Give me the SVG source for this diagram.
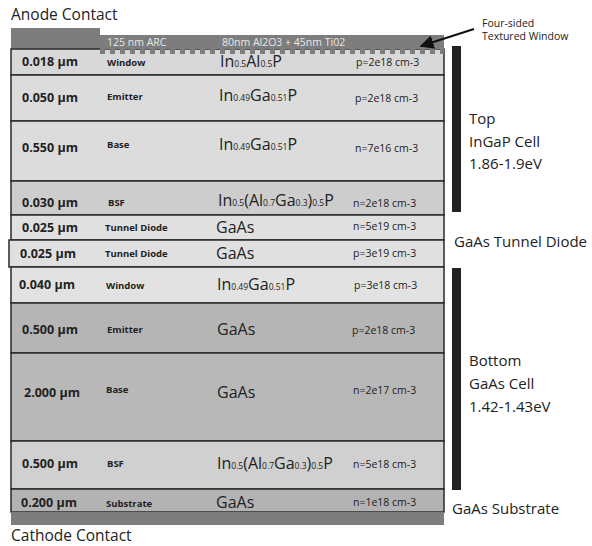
<svg xmlns="http://www.w3.org/2000/svg" width="592" height="546" viewBox="0 0 592 546">
<defs>
<style>
text{font-family:"Open Sans","Liberation Sans",sans-serif;fill:#222}
.th{font-size:12.5px;font-weight:bold}
.lb{font-size:9.5px;font-weight:bold}
.mt{font-size:16px}
.mt tspan.s{font-size:8.5px}
.dp{font-size:10.5px}
.big{font-size:15px}
.row{stroke:#2a2a2a;stroke-width:1.5}
.arc{font-size:10.5px;fill:#e8e8e8}
</style>
<marker id="ah" viewBox="0 0 10 10" refX="9" refY="5" markerWidth="7" markerHeight="7" orient="auto"><path d="M0,0 L10,5 L0,10 z" fill="#111"/></marker>
<pattern id="teeth" x="100" y="49" width="10" height="6" patternUnits="userSpaceOnUse"><rect x="0" y="0" width="5" height="5" fill="#7d7d7d"/></pattern>
</defs>
<rect width="592" height="546" fill="#fff"/>
<text x="11" y="20" style="font-size:15.5px">Anode Contact</text>
<text x="11" y="541" style="font-size:15.5px">Cathode Contact</text>

<g id="anode-contact"><rect x="11" y="28" width="89" height="21" fill="#7d7d7d"/></g>

<g id="layer-window1"><rect class="row" x="11" y="49" width="433" height="26" fill="#d8d8d8"/>
<rect x="100" y="49" width="344" height="5" fill="url(#teeth)"/>
<text class="th" x="22" y="66">0.018 µm</text><text class="lb" x="107" y="66">Window</text>
<text class="mt" x="220" y="67">In<tspan class="s">0.5</tspan>Al<tspan class="s">0.5</tspan>P</text>
<text class="dp" x="356" y="66">p=2e18 cm-3</text></g>

<g id="arc"><rect x="100" y="35" width="344" height="14" fill="#7d7d7d"/>
<text class="arc" x="107" y="46">125 nm ARC</text><text class="arc" x="222" y="46">80nm Al2O3 + 45nm Ti02</text></g>

<g id="layer-emitter1"><rect class="row" x="11" y="75" width="433" height="46" fill="#dcdcdc"/>
<text class="th" x="22" y="102">0.050 µm</text><text class="lb" x="107" y="100">Emitter</text>
<text class="mt" x="219" y="101">In<tspan class="s">0.49</tspan>Ga<tspan class="s">0.51</tspan>P</text>
<text class="dp" x="355" y="102">p=2e18 cm-3</text></g>

<g id="layer-base1"><rect class="row" x="11" y="121" width="433" height="60" fill="#dcdcdc"/>
<text class="th" x="22" y="152">0.550 µm</text><text class="lb" x="107" y="148">Base</text>
<text class="mt" x="219" y="150">In<tspan class="s">0.49</tspan>Ga<tspan class="s">0.51</tspan>P</text>
<text class="dp" x="355" y="152">n=7e16 cm-3</text></g>

<g id="layer-bsf1"><rect class="row" x="11" y="181" width="433" height="34" fill="#cdcdcd"/>
<text class="th" x="22" y="207">0.030 µm</text><text class="lb" x="108" y="206">BSF</text>
<text class="mt" x="218" y="206">In<tspan class="s">0.5</tspan>(Al<tspan class="s">0.7</tspan>Ga<tspan class="s">0.3</tspan>)<tspan class="s">0.5</tspan>P</text>
<text class="dp" x="353" y="207">n=2e18 cm-3</text></g>

<g id="layer-tunnel1"><rect class="row" x="11" y="215" width="433" height="25" fill="#e0e0e0"/>
<text class="th" x="22" y="232">0.025 µm</text><text class="lb" x="105" y="231">Tunnel Diode</text>
<text class="mt" x="216" y="233">GaAs</text>
<text class="dp" x="353" y="230">n=5e19 cm-3</text></g>

<g id="layer-tunnel2"><rect class="row" x="9" y="240" width="435" height="27" fill="#e0e0e0"/>
<text class="th" x="20" y="258">0.025 µm</text><text class="lb" x="105" y="257">Tunnel Diode</text>
<text class="mt" x="216" y="259">GaAs</text>
<text class="dp" x="353" y="257">p=3e19 cm-3</text></g>

<g id="layer-window2"><rect class="row" x="11" y="267" width="433" height="36" fill="#e2e2e2"/>
<text class="th" x="19" y="289">0.040 µm</text><text class="lb" x="106" y="289">Window</text>
<text class="mt" x="217" y="290">In<tspan class="s">0.49</tspan>Ga<tspan class="s">0.51</tspan>P</text>
<text class="dp" x="354" y="289">p=3e18 cm-3</text></g>

<g id="layer-emitter2"><rect class="row" x="11" y="303" width="433" height="50" fill="#b5b5b5"/>
<text class="th" x="22" y="334">0.500 µm</text><text class="lb" x="107" y="333">Emitter</text>
<text class="mt" x="217" y="335">GaAs</text>
<text class="dp" x="352" y="334">p=2e18 cm-3</text></g>

<g id="layer-base2"><rect class="row" x="11" y="353" width="433" height="88" fill="#b8b8b8"/>
<text class="th" x="24" y="397">2.000 µm</text><text class="lb" x="106" y="393">Base</text>
<text class="mt" x="217" y="398">GaAs</text>
<text class="dp" x="353" y="394">n=2e17 cm-3</text></g>

<g id="layer-bsf2"><rect class="row" x="11" y="441" width="433" height="48" fill="#d0d0d0"/>
<text class="th" x="22" y="468">0.500 µm</text><text class="lb" x="107" y="467">BSF</text>
<text class="mt" x="217" y="469">In<tspan class="s">0.5</tspan>(Al<tspan class="s">0.7</tspan>Ga<tspan class="s">0.3</tspan>)<tspan class="s">0.5</tspan>P</text>
<text class="dp" x="353" y="468">n=5e18 cm-3</text></g>

<g id="layer-substrate"><rect class="row" x="11" y="489" width="433" height="23" fill="#b3b3b3"/>
<text class="th" x="21" y="507">0.200 µm</text><text class="lb" x="106" y="507">Substrate</text>
<text class="mt" x="216" y="508">GaAs</text>
<text class="dp" x="353" y="506">n=1e18 cm-3</text></g>

<g id="cathode-contact"><rect x="11" y="512" width="433" height="13" fill="#7d7d7d"/></g>

<g id="top-cell-bracket"><rect x="452" y="46" width="9" height="166" fill="#222"/>
<text class="big" x="469" y="124">Top</text><text class="big" x="469" y="147">InGaP  Cell</text><text class="big" x="469" y="169">1.86-1.9eV</text></g>

<g id="tunnel-label"><text class="big" x="454" y="247">GaAs Tunnel Diode</text></g>

<g id="bottom-cell-bracket"><rect x="452" y="268" width="9" height="222" fill="#222"/>
<text class="big" x="469" y="366">Bottom</text><text class="big" x="469" y="389">GaAs  Cell</text><text class="big" x="469" y="412">1.42-1.43eV</text></g>

<g id="substrate-label"><text class="big" x="452" y="514">GaAs Substrate</text></g>

<g id="textured-label"><text style="font-size:10.5px" x="482" y="27">Four-sided</text><text style="font-size:10.5px" x="482" y="40">Textured Window</text></g>

<g id="connectors"><line x1="474" y1="29" x2="421" y2="46" stroke="#111" stroke-width="2" marker-end="url(#ah)"/></g>
</svg>
